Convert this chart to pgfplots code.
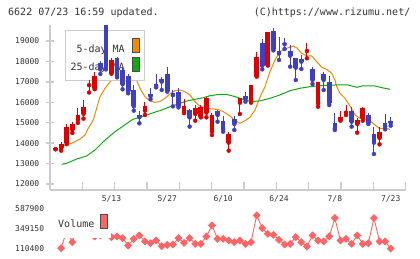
\documentclass[border=0pt]{standalone}
\usepackage{fontspec}
\setmainfont{DejaVu Sans Mono}
\usepackage{pgfplots}
\pgfplotsset{compat=1.18}
\usepackage{pgfplotstable}
\definecolor{cRed}{HTML}{DD0000}
\definecolor{cBlue}{HTML}{4040BF}
\definecolor{cOrange}{HTML}{F08A00}
\definecolor{cGreen}{HTML}{11AA11}
\definecolor{cVol}{HTML}{FF6464}
\definecolor{cAxis}{HTML}{CCCCCC}
\definecolor{cText}{HTML}{333333}

\pgfplotstableread{
i o h l c
0 13700 13750 13700 13750
1 13760 14056 13632 13942
2 14000 14920 13950 14800
3 14660 15050 14500 14960
4 15150 15730 14990 15380
5 15440 16110 15200 15755
6 16840 17100 16480 16890
7 16690 17500 16640 17290
10 17450 18150 17400 18060
16 15590 16030 15378 15818
23 15590 16150 15470 15800
25 15430 15867 15100 15704
26 15296 15867 15263 15785
27 15492 16275 15263 16193
28 14562 15459 14399 15378
31 14024 14562 13632 14448
33 15981 16193 15427 16193
35 16112 16846 15981 16846
36 17287 18462 17254 18201
38 17826 19460 17800 19456
45 18510 18886 18152 18559
47 15950 17010 15785 17010
51 15133 15573 15100 15263
52 15492 15867 15378 15590
54 14937 15214 14513 15133
55 15214 15753 15100 15704
58 14252 14774 13942 14529
}\upcandles

\pgfplotstableread{
i o h l c
8 17907 18030 17385 17613
9 19780 19800 17610 17710
11 18180 18230 17220 17290
12 17580 17660 16635 16880
13 17300 17370 16440 16540
14 16620 16846 15590 15800
15 15380 15560 14970 15265
17 16410 16683 16150 16290
18 16900 17385 16730 16810
19 17140 17254 16601 17010
20 17385 17744 16520 16568
21 16460 16580 15800 16350
22 16520 16680 15750 15820
24 15640 15680 14810 15255
29 15573 15600 15051 15378
30 15084 15329 14562 14692
32 15166 15329 14643 14937
34 16307 16487 16030 16160
37 18886 19082 17613 17793
39 19500 19620 18540 18600
40 18490 19212 18070 18390
41 18920 19170 18610 18840
42 18511 18800 17744 18280
43 18184 18184 17091 17695
44 18119 18315 17629 17988
46 17613 17711 16895 17091
48 17385 17467 16601 17091
49 17010 17287 15867 15981
50 14970 15459 14643 14725
53 15573 15785 14807 15051
56 15378 15459 14937 15002
57 14448 14807 13469 14024
59 14970 15427 14676 14807
60 15100 15263 14856 15002
}\downcandles

\pgfplotstableread{
i v
1 114000
2 330000
3 186900
4 400000
5 587900
6 350000
7 255000
8 270000
9 290000
10 247700
11 256200
12 235500
13 146800
14 227000
15 268400
16 195400
17 174800
18 207600
19 138300
20 154100
21 159000
22 235500
23 178400
24 235500
25 166300
26 166300
27 256200
28 389900
29 227000
30 227000
31 207600
32 186900
33 207600
34 166300
35 186900
36 511300
37 357000
38 287800
39 275700
40 214900
41 159000
42 166300
43 247700
44 186900
45 134700
46 268400
47 207600
48 195400
49 256200
50 478500
51 207600
52 227000
53 166300
54 268400
55 166300
56 174800
57 478500
58 195400
59 195400
60 110400
}\volume

\pgfplotsset{
  pricebox/.style={scale only axis, width=355.5bp, height=165bp,
    at={(50bp,-190bp)}, anchor=south west,
    xmin=-1, xmax=62.65, ymin=11706.3, ymax=19783, scaled ticks=false},
  smallfont/.style={font=\fontsize{8bp}{9bp}\selectfont, text=cText},
}

\begin{document}
\begin{tikzpicture}
\useasboundingbox (0bp,0bp) rectangle (420bp,-259bp);
\node[anchor=west, text=cText, font=\fontsize{10bp}{12bp}\selectfont, inner sep=0pt] at (8bp,-12.5bp) {6622 07/23 16:59 updated.};
\node[anchor=east, text=cText, font=\fontsize{10bp}{12bp}\selectfont, inner sep=0pt] at (410.5bp,-12.5bp) {(C)https://www.rizumu.net/};

% main axis: moving averages, x ticks, legend
\begin{axis}[pricebox,
  axis x line*=bottom, axis y line*=left,
  axis line style={draw=cAxis, line width=1.3bp},
  tick style={draw=cAxis, line width=1.3bp},
  tick align=inside, major tick length=8bp,
  xtick={-1,4.786,10.573,16.359,22.145,27.932,33.718,39.505,45.291,51.077,56.864,62.65},
  xticklabels={},
  ytick=\empty,
  extra x ticks={10,20,30,40,50,60},
  extra x tick labels={5/13,5/27,6/10,6/24,7/8,7/23},
  extra x tick style={tick style={draw=none}},
  xticklabel style={smallfont, inner sep=0pt, anchor=center, yshift=-8.5bp},
  legend style={at={(0.0422,0.9697)}, anchor=north west, draw=cAxis, fill=white,
    line width=1bp, inner xsep=5bp, inner ysep=8bp,
    font=\fontsize{10bp}{12bp}\selectfont, text=cText,
    row sep=3bp, column sep=7bp, nodes={inner sep=0pt}},
  legend plot pos=right, legend cell align=right,
]
\addplot[cOrange, line width=1bp,
  legend image code/.code={\draw[fill=cOrange, draw=black!70, line width=0.9bp] (0bp,-3.5bp) rectangle (7bp,10.5bp);}]
coordinates {
(1.38,13875) (2.88,13992) (4.37,14203) (5.26,14399) (5.85,14727) (6.75,15133)
(7.95,16273) (8.85,16685) (10.04,17091) (10.81,17287) (12,17550) (13,17450)
(14.22,17254) (15.11,16685) (16.0,16273) (16.9,16063) (17.79,15999) (18.68,16029)
(19.58,16195) (20.48,16406) (21.37,16567) (22.27,16601) (23.17,16518) (24.06,16357)
(24.96,16029) (25.55,15867) (26.75,15706) (28.24,15671) (29.44,15622) (30.33,15490)
(31.23,15329) (32.12,15099) (33.02,14971) (33.91,15099) (34.81,15265) (35.7,15622)
(36.29,16029) (36.9,16440) (37.49,16763) (38.38,17497) (39.28,18070) (40.17,18476)
(41.38,18643) (42.56,18755) (43.28,18643) (44.06,18398) (44.96,18266) (45.86,18266)
(46.75,17987) (47.65,17713) (48.54,17615) (49.44,17419) (50.03,17091) (50.33,16763)
(50.92,16440) (51.82,16195) (52.71,15818) (53.61,15378) (54.5,15216) (55.4,15167)
(56.29,15099) (57.19,14888) (57.96,14727) (58.98,14727) (59.87,14678)
};
\addlegendentry{5-day MA}
\addplot[cGreen, line width=1bp,
  legend image code/.code={\draw[fill=cGreen, draw=black!70, line width=0.9bp] (0bp,-3.5bp) rectangle (7bp,10.5bp);}]
coordinates {
(1.09,12964) (1.99,13013) (3.78,13224) (5.57,13371) (7.05,13664) (8.54,14071)
(10.64,14560) (12.12,14839) (13.63,15133) (14.22,15200) (16.0,15343) (17.49,15490)
(19.0,15622) (20.48,15784) (21.97,15916) (23.47,16063) (24.96,16146) (26.45,16224)
(27.65,16322) (29.44,16391) (30.5,16391) (31.53,16322) (32.71,16224) (33.91,16112)
(35.11,16029) (36.6,16070) (38.38,16195) (40.17,16357) (41.96,16567) (43.75,16685)
(45.54,16763) (47.33,16812) (50.03,16846) (52.35,16846) (53.97,16733) (54.86,16797)
(57.19,16797) (58.44,16714) (59.87,16636)
};
\addlegendentry{25-day MA}
\end{axis}

% candle axis: drawn on top of the legend, carries y ticks
\begin{axis}[pricebox,
  axis x line=none, axis y line*=left,
  axis line style={draw=cAxis, line width=1.3bp},
  tick style={draw=cAxis, line width=1.3bp},
  tick align=center, major tick length=8bp,
  ytick={12000,13000,14000,15000,16000,17000,18000,19000},
  yticklabels={12000,13000,14000,15000,16000,17000,18000,19000},
  yticklabel style={smallfont, anchor=east, inner sep=0pt, xshift=-6.5bp},
]
\addplot[cRed, only marks, mark=none, forget plot,
  error bars/.cd, y dir=plus, y explicit, error mark=none,
  error bar style={draw=cRed, line width=1bp}]
  table[x=i, y=l, y error plus expr={\thisrow{h}-\thisrow{l}}] {\upcandles};
\addplot[cRed, only marks, mark=none, forget plot,
  error bars/.cd, y dir=plus, y explicit, error mark=none,
  error bar style={draw=cRed, line width=4.7bp}]
  table[x=i, y=o, y error plus expr={\thisrow{c}-\thisrow{o}}] {\upcandles};
\addplot[cBlue, only marks, mark=none, forget plot,
  error bars/.cd, y dir=plus, y explicit, error mark=none,
  error bar style={draw=cBlue, line width=1bp}]
  table[x=i, y=l, y error plus expr={\thisrow{h}-\thisrow{l}}] {\downcandles};
\addplot[cBlue, only marks, mark=none, forget plot,
  error bars/.cd, y dir=plus, y explicit, error mark=none,
  error bar style={draw=cBlue, line width=4.7bp}]
  table[x=i, y=c, y error plus expr={\thisrow{o}-\thisrow{c}}] {\downcandles};
\end{axis}

% volume axis
\begin{axis}[scale only axis, width=355.5bp, height=51bp,
  at={(50bp,-256bp)}, anchor=south west,
  xmin=-1, xmax=62.65, ymin=19735, ymax=636254, scaled ticks=false,
  axis x line=none, axis y line*=left,
  axis line style={draw=none}, major tick length=0pt, tick style={draw=none},
  ytick={110400,349150,587900},
  yticklabels={110400,349150,587900},
  yticklabel style={smallfont, anchor=east, inner sep=0pt, xshift=-5.7bp},
  legend style={at={(0.0141,1)}, anchor=north west, draw=none, fill=white,
    inner xsep=3bp, inner ysep=8.75bp,
    font=\fontsize{10bp}{12bp}\selectfont, text=cText,
    column sep=6bp, nodes={inner sep=0pt}},
  legend plot pos=right,
]
\addplot[cVol, line width=0.9bp, mark=square*, mark size=2.35bp,
  mark options={rotate=45, fill=cVol, draw=cVol},
  legend image code/.code={\draw[fill=cVol, draw=black!70, line width=0.9bp] (0bp,-3.5bp) rectangle (7bp,10.5bp);}]
  table[x=i, y=v] {\volume};
\addlegendentry{Volume}
\end{axis}
\end{tikzpicture}
\end{document}
